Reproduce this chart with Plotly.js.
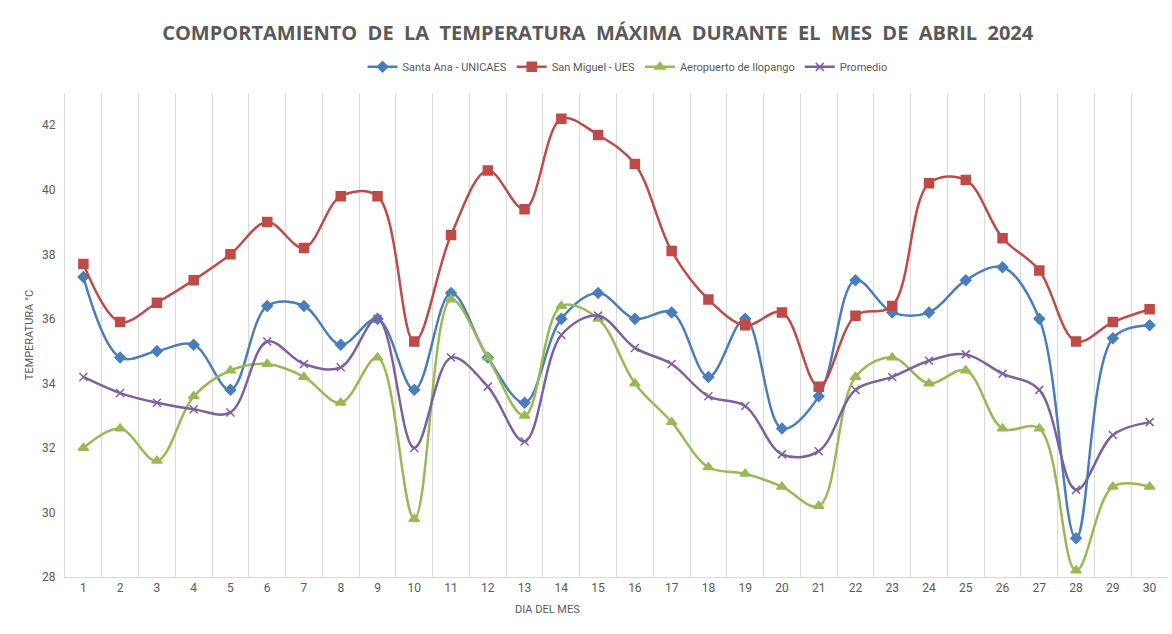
<!DOCTYPE html>
<html>
<head>
<meta charset="utf-8">
<script src="https://cdn.plot.ly/plotly-3.0.1.min.js"></script>
<style>
  html, body { margin: 0; padding: 0; background: #fff; }
  #myPlot { width: 1172px; height: 634px; }
</style>
</head>
<body>
<div id="myPlot"></div>
<script>
const dias = ["1","2","3","4","5","6","7","8","9","10","11","12","13","14","15",
  "16","17","18","19","20","21","22","23","24","25","26","27","28","29","30"];

const santaAna = [37.3, 34.8, 35.0, 35.2, 33.8, 36.4, 36.4, 35.2, 36.0, 33.8,
  36.8, 34.8, 33.4, 36.0, 36.8, 36.0, 36.2, 34.2, 36.0, 32.6,
  33.6, 37.2, 36.2, 36.2, 37.2, 37.6, 36.0, 29.2, 35.4, 35.8];

const sanMiguel = [37.7, 35.9, 36.5, 37.2, 38.0, 39.0, 38.2, 39.8, 39.8, 35.3,
  38.6, 40.6, 39.4, 42.2, 41.7, 40.8, 38.1, 36.6, 35.8, 36.2,
  33.9, 36.1, 36.4, 40.2, 40.3, 38.5, 37.5, 35.3, 35.9, 36.3];

const ilopango = [32.0, 32.6, 31.6, 33.6, 34.4, 34.6, 34.2, 33.4, 34.8, 29.8,
  36.6, 34.8, 33.0, 36.4, 36.0, 34.0, 32.8, 31.4, 31.2, 30.8,
  30.2, 34.2, 34.8, 34.0, 34.4, 32.6, 32.6, 28.2, 30.8, 30.8];

const promedio = [34.2, 33.7, 33.4, 33.2, 33.1, 35.3, 34.6, 34.5, 36.0, 32.0,
  34.8, 33.9, 32.2, 35.5, 36.1, 35.1, 34.6, 33.6, 33.3, 31.8,
  31.9, 33.8, 34.2, 34.7, 34.9, 34.3, 33.8, 30.7, 32.4, 32.8];

const yTicks = [28, 30, 32, 34, 36, 38, 40, 42];

function serie(nombre, valores, color, simbolo, tam) {
  return {
    x: dias, y: valores, name: nombre, type: "scatter", mode: "lines+markers",
    line: {color: color, width: 2.5, shape: "spline", smoothing: 1},
    marker: {color: color, symbol: simbolo, size: tam, line: {color: color, width: 1.5}}
  };
}

const data = [
  serie("Santa Ana - UNICAES", santaAna, "#4a7ebb", "diamond", 8),
  serie("San Miguel - UES", sanMiguel, "#be4b48", "square", 9),
  serie("Aeropuerto de Ilopango", ilopango, "#98b954", "triangle-up", 9),
  serie("Promedio", promedio, "#7d60a0", "x-thin", 8)
];

const layout = {
  width: 1172, height: 634,
  paper_bgcolor: "#fff", plot_bgcolor: "#fff",
  margin: {l: 65, r: 4, t: 93, b: 57, autoexpand: false},
  font: {family: "Liberation Sans Narrow, Roboto, sans-serif", color: "#595959"},
  title: {
    text: "COMPORTAMIENTO  DE  LA  TEMPERATURA  MÁXIMA  DURANTE  EL  MES  DE  ABRIL  2024",
    font: {family: "Open Sans, sans-serif", size: 20, color: "#595959", weight: "bold"},
    x: 0.51, xanchor: "center", y: 0.948, yanchor: "middle"
  },
  showlegend: true,
  legend: {
    orientation: "h", x: 0.51, xanchor: "center", y: 1.054, yanchor: "middle",
    font: {size: 11, color: "#595959"}
  },
  xaxis: {
    type: "category", range: [-0.5, 29.5], autorange: false, automargin: false,
    tickson: "boundaries", ticks: "", ticklen: 0,
    showgrid: true, gridcolor: "#d9d9d9", gridwidth: 1,
    showline: true, linecolor: "#d9d9d9", linewidth: 1, mirror: false,
    tickfont: {size: 12, color: "#595959"}, zeroline: false
  },
  yaxis: {
    range: [28, 43], autorange: false, automargin: false,
    tickvals: yTicks, showgrid: false, zeroline: false,
    showline: true, linecolor: "#d9d9d9", ticks: "", ticklabelstandoff: 6,
    tickfont: {size: 12, color: "#595959"},
    title: {text: "TEMPERATURA °C", font: {size: 11, color: "#595959"}, standoff: 6}
  },
  annotations: [{
    text: "DIA DEL MES", xref: "paper", yref: "paper", x: 0.437, y: -0.068,
    xanchor: "center", yanchor: "middle", showarrow: false,
    font: {size: 11, color: "#595959"}
  }]
};

Plotly.newPlot("myPlot", data, layout, {displayModeBar: false});
</script>
</body>
</html>
